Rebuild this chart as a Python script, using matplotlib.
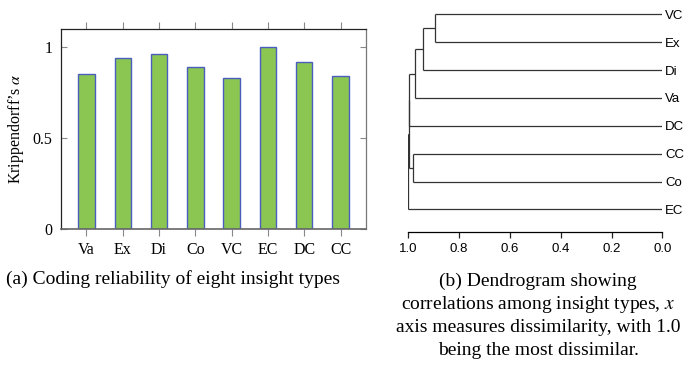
import matplotlib
matplotlib.use("Agg")
import matplotlib.pyplot as plt

# ---- data ----
categories = ["Va", "Ex", "Di", "Co", "VC", "EC", "DC", "CC"]
alpha_values = [0.85, 0.94, 0.96, 0.89, 0.83, 1.00, 0.92, 0.84]
y_ticks = [0, 0.5, 1]
y_tick_labels = ["0", "0.5", "1"]

leaf_labels = ["VC", "Ex", "Di", "Va", "DC", "CC", "Co", "EC"]
# scipy-style linkage: cluster ids 0..7 are leaves, 8.. are merges
merge_left = [0, 8, 9, 5, 10, 12, 13]
merge_right = [1, 2, 3, 6, 4, 11, 7]
merge_height = [0.895, 0.941, 0.974, 0.980, 0.997, 0.999, 1.0]
x_ticks = [1.0, 0.8, 0.6, 0.4, 0.2, 0.0]

caption_a = "(a) Coding reliability of eight insight types"
caption_b_lines = ["(b) Dendrogram showing",
                   "correlations among insight types, $x$",
                   "axis measures dissimilarity, with 1.0",
                   "being the most dissimilar."]

plt.rcParams["mathtext.fontset"] = "stix"
W, H = 692, 366
fig = plt.figure(figsize=(W / 100, H / 100), dpi=100)

def box(x0, y0, x1, y1):
    return [x0 / W, 1 - y1 / H, (x1 - x0) / W, (y1 - y0) / H]

serif = "Liberation Serif"
sans = "Liberation Sans"

# ---- bar chart ----
ax = fig.add_axes(box(61, 29, 366, 229))
xs = list(range(len(categories)))
ax.bar(xs, alpha_values, width=0.45, color="#8bc653", edgecolor="#4a5ec0", linewidth=1.0, zorder=2)
ax.set_xlim(-0.7, len(categories) - 0.3)
ax.set_ylim(0, 1.1)
ax.set_xticks(xs)
ax.set_xticklabels(categories, fontfamily=serif, fontsize=11.5)
ax.set_yticks(y_ticks)
ax.set_yticklabels(y_tick_labels, fontfamily=serif, fontsize=11.5)
ax.tick_params(axis="x", direction="out", length=5, color="#888888", top=True, bottom=True, pad=4)
ax.tick_params(axis="y", direction="in", length=4, color="#888888", left=True, right=True, pad=6)
ax.spines["left"].set_color("#222222")
ax.spines["top"].set_color("#222222")
ax.spines["bottom"].set_color("#666666")
ax.spines["right"].set_color("#777777")
for s in ax.spines.values():
    s.set_linewidth(0.9)
ax.spines["bottom"].set_linewidth(1.2)
ax.set_ylabel("Krippendorff\u2019s $\\alpha$", fontfamily=serif, fontsize=11.5, labelpad=5)

# ---- dendrogram ----
ax2 = fig.add_axes(box(408.3, 0.4, 662.3, 231.7))
n = len(leaf_labels)
pos = {i: float(i) for i in range(n)}
hgt = {i: 0.0 for i in range(n)}
lc = "#333333"
for k, (a, b, h) in enumerate(zip(merge_left, merge_right, merge_height)):
    ya, yb = pos[a], pos[b]
    ax2.plot([hgt[a], h], [ya, ya], color=lc, lw=0.9, solid_capstyle="butt")
    ax2.plot([hgt[b], h], [yb, yb], color=lc, lw=0.9, solid_capstyle="butt")
    ax2.plot([h, h], [ya, yb], color=lc, lw=0.9, solid_capstyle="butt")
    pos[n + k] = (ya + yb) / 2
    hgt[n + k] = h
ax2.set_xlim(1.0, 0.0)
ax2.set_ylim(n - 0.2, -0.5)
ax2.set_xticks(x_ticks)
ax2.set_xticklabels([f"{t:.1f}" for t in x_ticks], fontfamily=sans, fontsize=9.5)
ax2.yaxis.tick_right()
ax2.set_yticks(range(n))
ax2.set_yticklabels(leaf_labels, fontfamily=sans, fontsize=9.5)
ax2.tick_params(axis="y", length=0, pad=2)
ax2.tick_params(axis="x", direction="out", length=4, width=0.9, color="#222222", pad=4)
for side in ["top", "right", "left"]:
    ax2.spines[side].set_visible(False)
ax2.spines["bottom"].set_bounds(0.0, 1.0)
ax2.spines["bottom"].set_linewidth(0.9)
ax2.patch.set_alpha(0)

# ---- captions ----
fig.text(173.5 / W, 1 - 284 / H, caption_a, fontfamily=serif, fontsize=14,
         ha="center", va="baseline")
for i, line in enumerate(caption_b_lines):
    fig.text(538 / W, 1 - (286 + 23 * i) / H, line, fontfamily=serif, fontsize=14,
             ha="center", va="baseline")

fig.savefig("out.png", dpi=100)
